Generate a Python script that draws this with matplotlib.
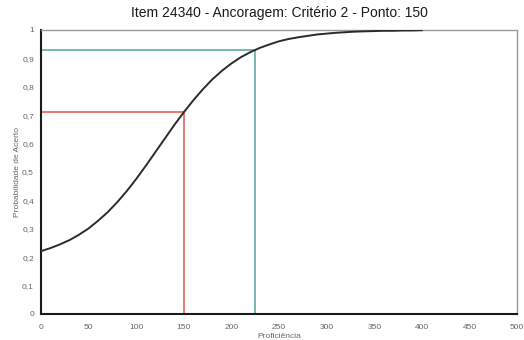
import matplotlib
matplotlib.use("Agg")
import matplotlib.pyplot as plt
from matplotlib.ticker import FuncFormatter

# Item characteristic curve (proficiency vs. probability of a correct answer)
proficiency = list(range(0, 401, 10))
probability = [0.221, 0.232, 0.245, 0.260, 0.279, 0.301, 0.328, 0.358, 0.393,
               0.432, 0.475, 0.521, 0.569, 0.617, 0.665, 0.710, 0.752, 0.791,
               0.826, 0.856, 0.882, 0.904, 0.922, 0.937, 0.949, 0.960, 0.968,
               0.974, 0.979, 0.984, 0.987, 0.990, 0.992, 0.994, 0.995, 0.996,
               0.997, 0.997, 0.998, 0.998, 0.999]

# Anchor point and the level where the curve reaches 0.93
anchor_x, anchor_p = 150, 0.71
upper_x, upper_p = 225, 0.93

x_ticks = list(range(0, 501, 50))
y_ticks = [0, 0.1, 0.2, 0.3, 0.4, 0.5, 0.6, 0.7, 0.8, 0.9, 1.0]

plt.rcParams['font.family'] = ['Liberation Sans', 'DejaVu Sans']

fig = plt.figure(figsize=(5.24, 3.40), dpi=100)
ax = fig.add_axes([0.078, 0.0765, 0.909, 0.8355])

ax.plot([0, anchor_x, anchor_x], [anchor_p, anchor_p, 0], color='#e0574a', lw=1.1, zorder=2)
ax.plot([0, upper_x, upper_x], [upper_p, upper_p, 0], color='#4fa69c', lw=1.1, zorder=2)
ax.plot(proficiency, probability, color='#2b2b2b', lw=1.4, zorder=3)

ax.set_xlim(0, 500)
ax.set_ylim(0, 1)
ax.set_xticks(x_ticks)
ax.set_yticks(y_ticks)

def comma_fmt(v, pos):
    return f"{v:g}".replace('.', ',')

ax.yaxis.set_major_formatter(FuncFormatter(comma_fmt))
ax.tick_params(axis='both', length=0, labelsize=6, labelcolor='#666666')
ax.tick_params(axis='x', pad=7)
ax.tick_params(axis='y', pad=5)

for side in ('left', 'bottom'):
    ax.spines[side].set_color('#1a1a1a')
    ax.spines[side].set_linewidth(1.5)
for side in ('top', 'right'):
    ax.spines[side].set_color('#9a9a9a')
    ax.spines[side].set_linewidth(1.0)

ax.set_xlabel('Proficiência', fontsize=6, color='#666666', labelpad=2)
ax.set_ylabel('Probabilidade de Acerto', fontsize=6, color='#666666', labelpad=1)
ax.set_title('Item 24340 - Ancoragem: Critério 2 - Ponto: 150', fontsize=10,
             color='#1a1a1a', pad=9)

fig.savefig('out.png', dpi=100)
